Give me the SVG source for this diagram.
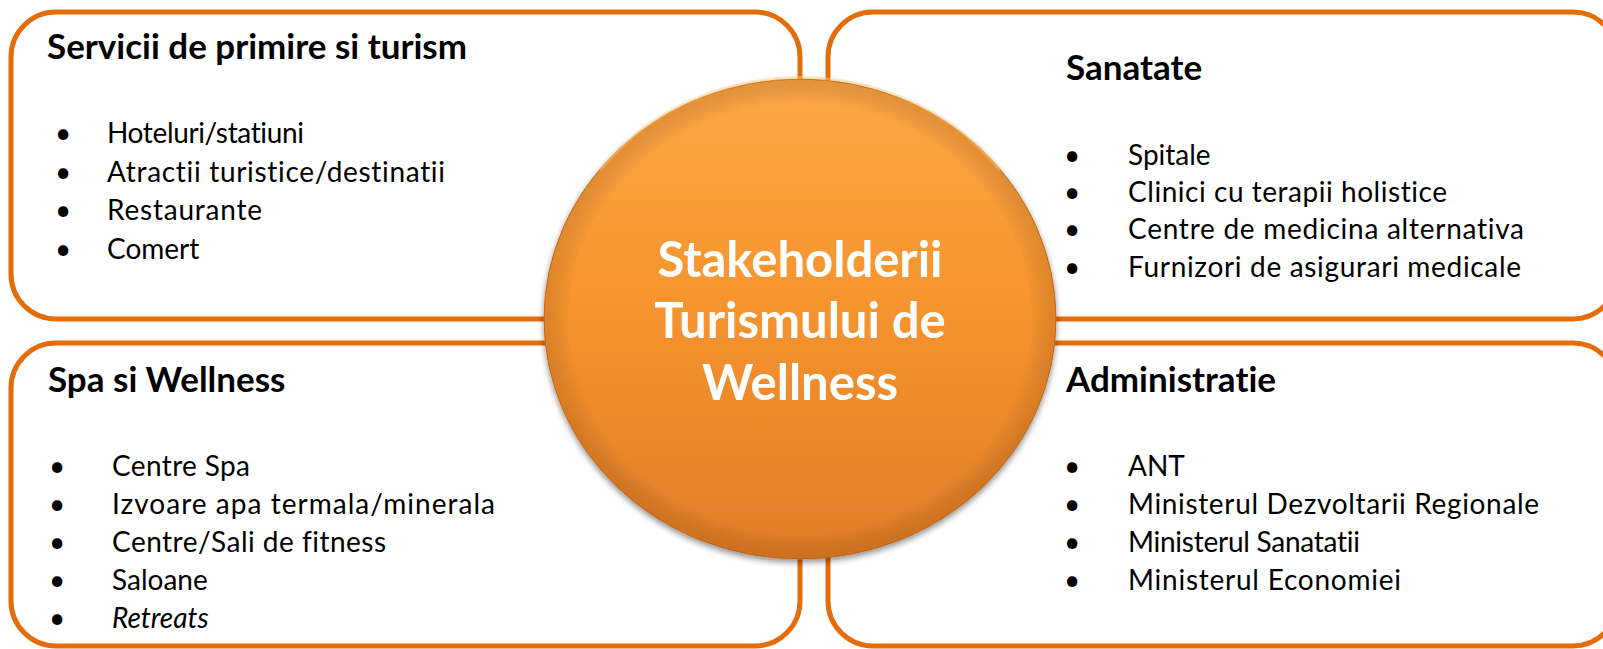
<svg xmlns="http://www.w3.org/2000/svg" width="1603" height="649" viewBox="0 0 1603 649">
<style>
text{font-family:Lato,"Open Sans","Liberation Sans",sans-serif;font-variant-ligatures:none;font-feature-settings:"liga" 0,"clig" 0}
.box{fill:#ffffff;stroke:#E46C0A;stroke-width:5}
.h{font-weight:bold;font-size:35px;fill:#000}
.t{font-size:28px;fill:#000}
.it{font-style:italic}
.c{font-weight:bold;font-size:49px;fill:#fff;text-anchor:middle}
</style>
<defs>
<linearGradient id="g" x1="0" y1="0" x2="0" y2="1">
<stop offset="0" stop-color="#FBA646"/>
<stop offset="0.45" stop-color="#F7952F"/>
<stop offset="1" stop-color="#DF7C27"/>
</linearGradient>
<radialGradient id="rim" cx="0.5" cy="0.5" r="0.5">
<stop offset="0.9" stop-color="#000" stop-opacity="0"/>
<stop offset="1" stop-color="#7a3a00" stop-opacity="0.18"/>
</radialGradient>
<filter id="sh" x="-20%" y="-20%" width="140%" height="140%">
<feGaussianBlur in="SourceAlpha" stdDeviation="3"/>
<feOffset dx="0" dy="3" result="b"/>
<feComponentTransfer><feFuncA type="linear" slope="0.45"/></feComponentTransfer>
<feMerge><feMergeNode/><feMergeNode in="SourceGraphic"/></feMerge>
</filter>
</defs>
<g id="box-servicii">
<rect class="box" x="11" y="12" width="789" height="307" rx="45"/>
<text class="h" x="47" y="59" textLength="420" lengthAdjust="spacingAndGlyphs">Servicii de primire si turism</text>
<text class="t" x="55" y="143">•</text><text class="t" x="107" y="143" textLength="197">Hoteluri/statiuni</text>
<text class="t" x="55" y="182">•</text><text class="t" x="107" y="182" textLength="338">Atractii turistice/destinatii</text>
<text class="t" x="55" y="220">•</text><text class="t" x="107" y="220" textLength="155">Restaurante</text>
<text class="t" x="55" y="259">•</text><text class="t" x="107" y="259">Comert</text>
</g>
<g id="box-sanatate">
<rect class="box" x="828" y="12" width="790" height="307" rx="45"/>
<text class="h" x="1066" y="80">Sanatate</text>
<text class="t" x="1064" y="165">•</text><text class="t" x="1128" y="165">Spitale</text>
<text class="t" x="1064" y="202">•</text><text class="t" x="1128" y="202" textLength="319">Clinici cu terapii holistice</text>
<text class="t" x="1064" y="239">•</text><text class="t" x="1128" y="239" textLength="396">Centre de medicina alternativa</text>
<text class="t" x="1064" y="277">•</text><text class="t" x="1128" y="277" textLength="393">Furnizori de asigurari medicale</text>
</g>
<g id="box-spa">
<rect class="box" x="11" y="343" width="789" height="303" rx="45"/>
<text class="h" x="48" y="392">Spa si Wellness</text>
<text class="t" x="49" y="476">•</text><text class="t" x="112" y="476" textLength="138">Centre Spa</text>
<text class="t" x="49" y="514">•</text><text class="t" x="112" y="514" textLength="383">Izvoare apa termala/minerala</text>
<text class="t" x="49" y="552">•</text><text class="t" x="112" y="552" textLength="274">Centre/Sali de fitness</text>
<text class="t" x="49" y="590">•</text><text class="t" x="112" y="590">Saloane</text>
<text class="t" x="49" y="628">•</text><text class="t it" x="112" y="628">Retreats</text>
</g>
<g id="box-administratie">
<rect class="box" x="828" y="343" width="790" height="303" rx="45"/>
<text class="h" x="1066" y="392">Administratie</text>
<text class="t" x="1064" y="476">•</text><text class="t" x="1128" y="476">ANT</text>
<text class="t" x="1064" y="514">•</text><text class="t" x="1128" y="514" textLength="411">Ministerul Dezvoltarii Regionale</text>
<text class="t" x="1064" y="552">•</text><text class="t" x="1128" y="552" textLength="232">Ministerul Sanatatii</text>
<text class="t" x="1064" y="590">•</text><text class="t" x="1128" y="590" textLength="273">Ministerul Economiei</text>
</g>
<g id="connectors"></g>
<g id="center">
<ellipse cx="800" cy="319" rx="256" ry="240" fill="url(#g)" stroke="#C96A22" stroke-width="1" filter="url(#sh)"/>
<ellipse cx="800" cy="319" rx="256" ry="240" fill="url(#rim)"/>
<path d="M 600 170 A 252 236 0 0 1 1000 170" fill="none" stroke="#FFD27A" stroke-opacity="0.45" stroke-width="3"/>
<text class="c" x="800" y="277">Stakeholderii</text>
<text class="c" x="800" y="338">Turismului de</text>
<text class="c" x="800" y="400">Wellness</text>
</g>
</svg>
